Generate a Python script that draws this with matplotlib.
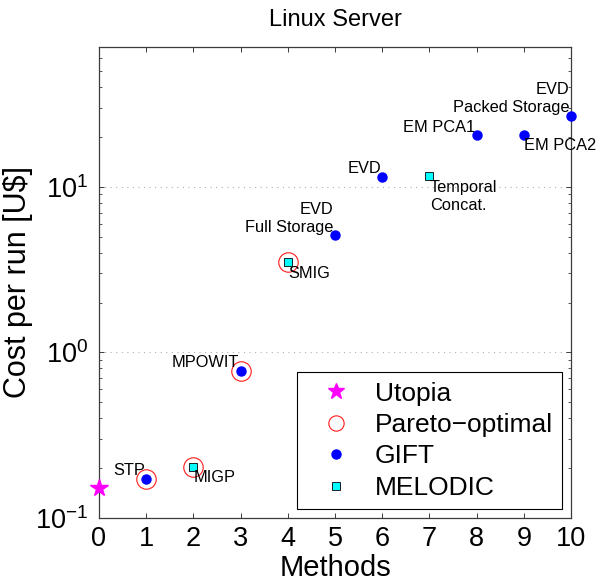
import matplotlib
matplotlib.use('Agg')
import matplotlib.pyplot as plt
from matplotlib.ticker import LogLocator, FixedLocator, NullFormatter, NullLocator

plt.rcParams['font.family'] = ['Liberation Sans', 'DejaVu Sans']
plt.rcParams['mathtext.default'] = 'regular'

# ---- data ----
utopia_x = [0]
utopia_cost = [0.151]

method_x = [1, 2, 3, 4, 5, 6, 7, 8, 9, 10]
method_cost = [0.172, 0.204, 0.775, 3.50, 5.10, 11.5, 11.6, 20.5, 20.7, 26.9]
method_tool = ['GIFT', 'MELODIC', 'GIFT', 'MELODIC', 'GIFT', 'GIFT',
               'MELODIC', 'GIFT', 'GIFT', 'GIFT']
method_pareto = [True, True, True, True, False, False, False, False, False, False]
method_name = ['STP', 'MIGP', 'MPOWIT', 'SMIG', 'EVD\nFull Storage', 'EVD',
               'Temporal\nConcat.', 'EM PCA1', 'EM PCA2', 'EVD\nPacked Storage']
label_side = ['above', 'below', 'above', 'below', 'above', 'above',
              'below', 'above', 'below', 'above']

x_ticks = list(range(0, 11))

# ---- figure ----
fig = plt.figure(figsize=(6.01, 5.87), dpi=100)
ax = fig.add_axes([99 / 601, 1 - 518 / 587, 472 / 601, 471 / 587])

spine_c = '#3c3c3c'

px = [x for x, p in zip(method_x, method_pareto) if p]
py = [c for c, p in zip(method_cost, method_pareto) if p]
gx = [x for x, t in zip(method_x, method_tool) if t == 'GIFT']
gy = [c for c, t in zip(method_cost, method_tool) if t == 'GIFT']
mx = [x for x, t in zip(method_x, method_tool) if t == 'MELODIC']
my = [c for c, t in zip(method_cost, method_tool) if t == 'MELODIC']

ax.plot(utopia_x, utopia_cost, linestyle='none', marker='*', markersize=13,
        color='#ff00ff', markeredgecolor='#ff00ff', label='Utopia', clip_on=False, zorder=5)
ax.plot(px, py, linestyle='none', marker='o', markersize=14, markerfacecolor='none',
        markeredgecolor='#ff1a1a', markeredgewidth=0.8, label='Pareto\u2212optimal', zorder=3)
ax.plot(gx, gy, linestyle='none', marker='o', markersize=6.5, color='#0000ff',
        markeredgecolor='#0000ff', label='GIFT', clip_on=False, zorder=4)
ax.plot(mx, my, linestyle='none', marker='s', markersize=5.8, markerfacecolor='#00ffff',
        markeredgecolor='black', markeredgewidth=0.6, label='MELODIC', zorder=4)

for x, c, name, side in zip(method_x, method_cost, method_name, label_side):
    if side == 'above':
        ax.annotate(name, (x, c), xytext=(-1, 0.5), textcoords='offset points',
                    ha='right', va='bottom', fontsize=11.8, linespacing=1.25, zorder=6)
    else:
        ax.annotate(name, (x, c), xytext=(0.5, -2.5), textcoords='offset points',
                    ha='left', va='top', fontsize=11.8, linespacing=1.25, zorder=6)

ax.set_yscale('log')
ax.set_xlim(0, 10)
ax.set_ylim(0.1, 70)
ax.xaxis.set_major_locator(FixedLocator(x_ticks))
ax.xaxis.set_minor_locator(NullLocator())
ax.yaxis.set_major_locator(LogLocator(base=10, numticks=10))
ax.yaxis.set_minor_locator(LogLocator(base=10, subs=range(2, 10), numticks=20))
ax.yaxis.set_minor_formatter(NullFormatter())

ax.grid(True, which='major', axis='y', linestyle=(0, (1, 4)), color='#b0b0b0', linewidth=0.8)
ax.set_axisbelow(True)

for s in ax.spines.values():
    s.set_color(spine_c)
    s.set_linewidth(0.9)

ax.tick_params(which='both', direction='in', top=True, right=True, colors=spine_c,
               labelcolor='black')
ax.tick_params(which='major', length=3.5, width=0.7, labelsize=19.5)
ax.tick_params(which='minor', length=2.2, width=0.6)
ax.tick_params(axis='x', which='major', pad=6)
ax.tick_params(axis='y', which='major', pad=8)

ax.set_xlabel('Methods', fontsize=21, labelpad=1)
ax.set_ylabel('Cost per run [U$]', fontsize=22, labelpad=1)
ax.set_title('Linux Server', fontsize=17, pad=15)

leg = ax.legend(loc='lower right', bbox_to_anchor=(0.981, 0.019), fontsize=19,
                frameon=True, fancybox=False, framealpha=1, edgecolor='black',
                borderpad=0.35, labelspacing=0.28, handlelength=2.3,
                handletextpad=0.3, borderaxespad=0, numpoints=1)
leg.get_frame().set_linewidth(0.8)
sizes = [12, 11, 6.5, 5.5]
for h, s in zip(leg.legend_handles, sizes):
    h.set_markersize(s)

fig.savefig('out.png', dpi=100)
